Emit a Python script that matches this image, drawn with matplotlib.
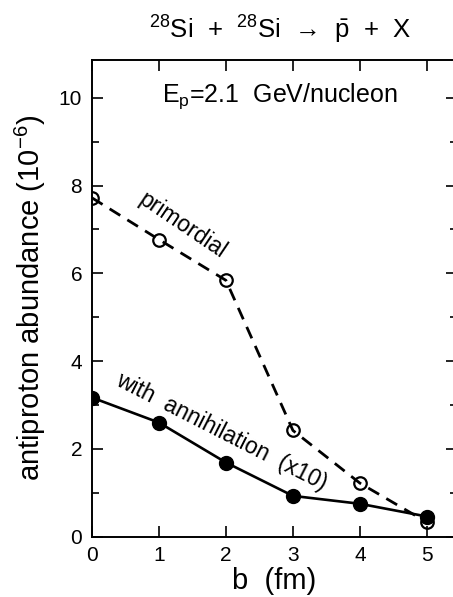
import matplotlib
matplotlib.use("Agg")
import matplotlib.pyplot as plt
from matplotlib.ticker import MultipleLocator

b = [0, 1, 2, 3, 4, 5]
primordial = [7.72, 6.77, 5.84, 2.42, 1.22, 0.33]
annihilation = [3.17, 2.6, 1.69, 0.93, 0.75, 0.46]

plt.rcParams['font.family'] = ['Liberation Sans', 'DejaVu Sans']
plt.rcParams['mathtext.fontset'] = 'custom'
plt.rcParams['mathtext.rm'] = 'Liberation Sans'
plt.rcParams['mathtext.it'] = 'Liberation Sans'

fig = plt.figure(figsize=(4.53, 5.97), dpi=100)
ax = fig.add_axes([0.203, 0.101, 0.806, 0.7985])

ax.plot(b, primordial, color='black', lw=2.0, ls=(0, (4.5, 3.0)),
        marker='o', ms=9, mfc='none', mec='black', mew=1.6, zorder=2)
ax.plot(b, annihilation, color='black', lw=1.9, ls='-',
        marker='o', ms=10, mfc='black', mec='black', zorder=3)

ax.set_xlim(0, 5.45)
ax.set_ylim(0, 10.86)
ax.xaxis.set_major_locator(MultipleLocator(1))
ax.yaxis.set_major_locator(MultipleLocator(2))
ax.yaxis.set_minor_locator(MultipleLocator(1))
ax.tick_params(which='both', direction='in', top=True, right=True, labelsize=15, width=1.2)
ax.tick_params(which='major', length=8, pad=7)
ax.tick_params(which='minor', length=5)
for s in ax.spines.values():
    s.set_linewidth(1.4)

ax.set_xlabel('b  (fm)', fontsize=21, labelpad=1)
ax.set_ylabel(r'antiproton abundance (10$^{-6}$)', fontsize=21, labelpad=8)

ax.text(2.8, 10.04, r'E$_\mathregular{p}$=2.1  GeV/nucleon', fontsize=18, ha='center', va='center')
fig.text(0.618, 0.95, r'$^{28}$Si  +  $^{28}$Si  →  $\bar{\mathrm{p}}$  +  X', fontsize=18.5,
         ha='center', va='center')

ax.text(1.35, 7.1, 'primordial', fontsize=16.5, rotation=-34, ha='center', va='center',
        rotation_mode='anchor')
ax.text(1.93, 2.4, 'with  annihilation  (x10)', fontsize=16.5, rotation=-27, ha='center', va='center',
        rotation_mode='anchor')

fig.savefig('out.png', dpi=100)
